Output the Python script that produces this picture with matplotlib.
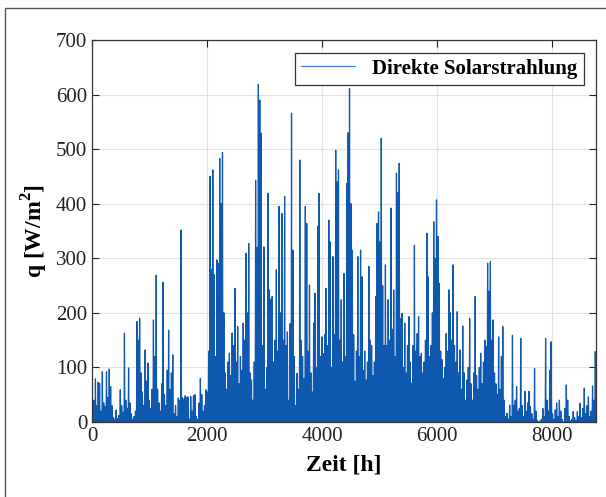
import numpy as np
import matplotlib
matplotlib.use("Agg")
import matplotlib.pyplot as plt
from matplotlib.patches import Rectangle

plt.rcParams['font.family'] = ['Liberation Serif', 'DejaVu Serif']
plt.rcParams['mathtext.fontset'] = 'custom'
plt.rcParams['mathtext.rm'] = 'Liberation Serif:bold'
plt.rcParams['mathtext.bf'] = 'Liberation Serif:bold'

# daily peak of direct solar radiation in W/m^2, one list per month
jan = [25, 40, 79, 30, 73, 71, 20, 92, 35, 28, 92, 45, 97, 65, 30, 8,
       5, 22, 6, 12, 59, 30, 18, 163, 40, 25, 99, 35, 15, 5, 10]
feb = [20, 184, 150, 190, 90, 55, 30, 132, 75, 108, 40, 25, 60, 187,
       120, 269, 60, 35, 20, 70, 256, 50, 30, 95, 168, 60, 90, 123]
mar = [15, 30, 10, 44, 40, 352, 45, 42, 48, 45, 46, 5, 47, 20, 48, 50,
       10, 5, 35, 80, 50, 20, 30, 59, 55, 130, 450, 280, 462, 270, 120]
apr = [297, 290, 483, 400, 494, 200, 90, 60, 110, 126, 85, 163, 140,
       245, 110, 175, 70, 120, 95, 181, 150, 309, 200, 327, 90, 77, 40,
       110, 443, 320]
may = [619, 590, 529, 140, 321, 60, 100, 419, 242, 225, 230, 110, 150,
       279, 130, 395, 200, 382, 150, 413, 140, 165, 40, 180, 566, 315,
       120, 30, 89, 60, 480]
jun = [150, 120, 80, 395, 364, 130, 251, 90, 55, 181, 236, 100, 358,
       419, 120, 156, 125, 160, 245, 140, 370, 330, 100, 303, 160, 498,
       440, 462, 150, 224]
jul = [110, 272, 120, 437, 530, 611, 400, 315, 160, 75, 130, 303, 120,
       315, 266, 95, 130, 77, 110, 285, 150, 140, 85, 110, 230, 364, 385,
       330, 520, 250, 140]
aug = [288, 140, 224, 150, 392, 170, 242, 120, 456, 420, 474, 190, 199,
       100, 181, 90, 140, 193, 110, 71, 140, 324, 130, 162, 193, 120,
       126, 90, 110, 150, 346]
sep = [266, 120, 140, 200, 367, 300, 407, 340, 254, 130, 114, 80, 100,
       162, 130, 242, 200, 150, 288, 140, 110, 202, 90, 132, 60, 176, 90,
       40, 77, 100]
okt = [190, 70, 40, 90, 230, 85, 60, 100, 126, 70, 110, 150, 138, 291,
       240, 294, 150, 187, 90, 70, 50, 156, 60, 120, 175, 40, 10, 16, 5,
       31, 10]
nov = [159, 30, 40, 65, 20, 25, 153, 30, 10, 56, 20, 35, 56, 28, 15, 5,
       98, 20, 3, 0, 2, 5, 25, 10, 153, 40, 20, 95, 147, 15]
dez = [5, 22, 35, 10, 40, 20, 5, 0, 25, 68, 40, 10, 2, 5, 19, 8, 3, 19,
       10, 34, 8, 25, 62, 15, 30, 46, 10, 20, 66, 40, 129]

daily_peak = np.array(jan + feb + mar + apr + may + jun + jul + aug
                      + sep + okt + nov + dez, dtype=float)

# hourly trace: zero at night, peak around noon
days = np.arange(len(daily_peak))
t = np.column_stack([24 * days + 5, 24 * days + 12, 24 * days + 19]).ravel()
q = np.column_stack([np.zeros_like(daily_peak), daily_peak,
                     np.zeros_like(daily_peak)]).ravel()

fig = plt.figure(figsize=(6.06, 4.97), dpi=100)
ax = fig.add_axes([0.1518, 0.1509, 0.8317, 0.7686])

ax.plot(t, q, color='#0f58b0', lw=0.9, label='Direkte Solarstrahlung')

ax.set_xlim(0, 8760)
ax.set_ylim(0, 700)
ax.set_xticks([0, 2000, 4000, 6000, 8000])
ax.set_yticks(range(0, 701, 100))
ax.grid(True, color='#e2e2e2', lw=0.8)
ax.set_axisbelow(True)
ax.tick_params(direction='in', top=True, right=True, length=5,
               labelsize=15, colors='#222222')
for s in ax.spines.values():
    s.set_color('#333333')
    s.set_linewidth(0.9)

ax.set_xlabel('Zeit [h]', fontsize=17, fontweight='bold', labelpad=6)
ax.set_ylabel(r'q [W/m$^{2}$]', fontsize=17, fontweight='bold', labelpad=4)

leg = ax.legend(loc='upper right', fancybox=False, framealpha=1,
                edgecolor='#333333', prop={'size': 15, 'weight': 'bold'},
                handlelength=2.6, borderpad=0.3, borderaxespad=0.6)
leg.get_frame().set_linewidth(0.9)
leg.get_lines()[0].set_color('#3f7fcc')

# thin frame around the whole figure
fig.patches.append(Rectangle((5 / 606, -0.05), 1.0, 0.05 + 1 - 8 / 497,
                             transform=fig.transFigure, fill=False,
                             edgecolor='#555555', lw=1.0))

fig.savefig('out.png', dpi=100)
